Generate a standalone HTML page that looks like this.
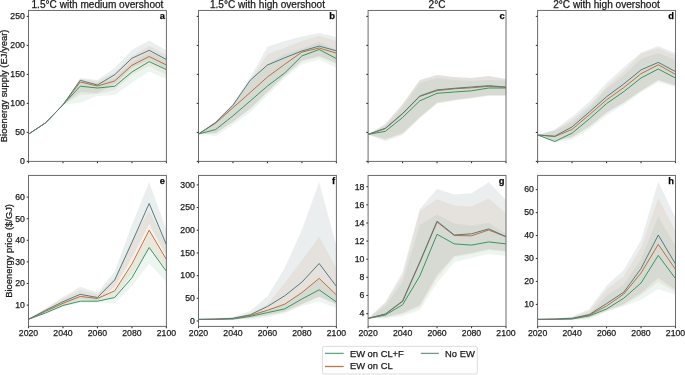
<!DOCTYPE html><html><head><meta charset="utf-8"><style>html,body{margin:0;padding:0;background:#fff;}svg{display:block;will-change:transform}text{font-family:"Liberation Sans",sans-serif;stroke:#1a1a1a;stroke-width:0.25px}</style></head><body>
<svg width="685" height="375" viewBox="0 0 685 375">
<rect width="685" height="375" fill="#fff"/>
<clipPath id="cpa"><rect x="28.5" y="10.45" width="137.9" height="150.95"/></clipPath>
<g clip-path="url(#cpa)">
<polygon points="28.5,134.2 45.74,122.7 62.98,104.8 80.21,82 97.45,83 114.69,78 131.93,62 149.16,52 166.4,60 166.4,79.3 149.16,71.4 131.93,82.7 114.69,95 97.45,96 80.21,102.7 62.98,104.8 45.74,122.7 28.5,134.2" fill="#4c9c74" fill-opacity="0.1"/>
<polygon points="28.5,134.2 45.74,122.7 62.98,104.8 80.21,79 97.45,81 114.69,73 131.93,56 149.16,46 166.4,55 166.4,75 149.16,66 131.93,75 114.69,90 97.45,94 80.21,95 62.98,104.8 45.74,122.7 28.5,134.2" fill="#c8783c" fill-opacity="0.1"/>
<polygon points="28.5,134.2 45.74,122.7 62.98,104.8 80.21,78 97.45,80 114.69,68 131.93,50 149.16,40.5 166.4,50.5 166.4,69 149.16,60 131.93,68 114.69,84 97.45,93 80.21,92 62.98,104.8 45.74,122.7 28.5,134.2" fill="#6f8a8e" fill-opacity="0.15"/>
<polyline points="28.5,134.2 45.74,122.7 62.98,104.8 80.21,86.2 97.45,88 114.69,86.3 131.93,72 149.16,61.6 166.4,69.6" fill="none" stroke="#34985f" stroke-width="1.0" stroke-linejoin="miter"/>
<polyline points="28.5,134.2 45.74,122.7 62.98,104.8 80.21,82 97.45,86 114.69,81 131.93,65.3 149.16,56.5 166.4,65" fill="none" stroke="#bc703c" stroke-width="1.0" stroke-linejoin="miter"/>
<polyline points="28.5,134.2 45.74,122.7 62.98,104.8 80.21,80.3 97.45,85 114.69,74.7 131.93,58.3 149.16,50.3 166.4,59.5" fill="none" stroke="#557b7f" stroke-width="1.0" stroke-linejoin="miter"/>
</g>
<rect x="28.5" y="10.45" width="137.9" height="150.95" fill="none" stroke="#6c6c6c" stroke-width="1"/>
<line x1="28.5" y1="161.4" x2="28.5" y2="163.2" stroke="#3a3a3a" stroke-width="1.1"/>
<line x1="62.98" y1="161.4" x2="62.98" y2="163.2" stroke="#3a3a3a" stroke-width="1.1"/>
<line x1="97.45" y1="161.4" x2="97.45" y2="163.2" stroke="#3a3a3a" stroke-width="1.1"/>
<line x1="131.93" y1="161.4" x2="131.93" y2="163.2" stroke="#3a3a3a" stroke-width="1.1"/>
<line x1="166.4" y1="161.4" x2="166.4" y2="163.2" stroke="#3a3a3a" stroke-width="1.1"/>
<line x1="26.7" y1="161.4" x2="28.5" y2="161.4" stroke="#3a3a3a" stroke-width="1.1"/>
<text x="24.8" y="164.2" font-size="8.7" text-anchor="end" fill="#1a1a1a">0</text>
<line x1="26.7" y1="132.4" x2="28.5" y2="132.4" stroke="#3a3a3a" stroke-width="1.1"/>
<text x="24.8" y="135.2" font-size="8.7" text-anchor="end" fill="#1a1a1a">50</text>
<line x1="26.7" y1="103.4" x2="28.5" y2="103.4" stroke="#3a3a3a" stroke-width="1.1"/>
<text x="24.8" y="106.2" font-size="8.7" text-anchor="end" fill="#1a1a1a">100</text>
<line x1="26.7" y1="74.4" x2="28.5" y2="74.4" stroke="#3a3a3a" stroke-width="1.1"/>
<text x="24.8" y="77.2" font-size="8.7" text-anchor="end" fill="#1a1a1a">150</text>
<line x1="26.7" y1="45.4" x2="28.5" y2="45.4" stroke="#3a3a3a" stroke-width="1.1"/>
<text x="24.8" y="48.2" font-size="8.7" text-anchor="end" fill="#1a1a1a">200</text>
<line x1="26.7" y1="16.4" x2="28.5" y2="16.4" stroke="#3a3a3a" stroke-width="1.1"/>
<text x="24.8" y="19.2" font-size="8.7" text-anchor="end" fill="#1a1a1a">250</text>
<text x="165" y="18.65" font-size="9.4" font-weight="bold" text-anchor="end" fill="#000">a</text>
<text x="97.45" y="7.6" font-size="10.1" text-anchor="middle" fill="#1a1a1a">1.5°C with medium overshoot</text>
<clipPath id="cpb"><rect x="198.5" y="10.45" width="137.9" height="150.95"/></clipPath>
<g clip-path="url(#cpb)">
<polygon points="198.5,134 215.74,122 232.97,105 250.21,81 267.45,64.3 284.69,54 301.93,48.4 319.16,42 336.4,50 336.4,67.5 319.16,60 301.93,64.3 284.69,78.3 267.45,95.5 250.21,112.3 232.97,125 215.74,136 198.5,134" fill="#4c9c74" fill-opacity="0.1"/>
<polygon points="198.5,134 215.74,121.5 232.97,104 250.21,80.5 267.45,54.3 284.69,47.8 301.93,41 319.16,36 336.4,41 336.4,64 319.16,57 301.93,61.5 284.69,76 267.45,92.5 250.21,109 232.97,122 215.74,133.5 198.5,134" fill="#c8783c" fill-opacity="0.1"/>
<polygon points="198.5,134 215.74,121 232.97,103.5 250.21,77.7 267.45,46.8 284.69,41 301.93,36.5 319.16,33 336.4,37 336.4,63 319.16,56 301.93,60.6 284.69,75.5 267.45,91.8 250.21,108.6 232.97,121.7 215.74,133 198.5,134" fill="#6f8a8e" fill-opacity="0.15"/>
<polyline points="198.5,134 215.74,129.5 232.97,115.8 250.21,101 267.45,86 284.69,73 301.93,55.9 319.16,49.5 336.4,58.6" fill="none" stroke="#34985f" stroke-width="1.0" stroke-linejoin="miter"/>
<polyline points="198.5,134 215.74,123 232.97,107.7 250.21,92.5 267.45,77 284.69,64.3 301.93,52.1 319.16,48 336.4,53.2" fill="none" stroke="#bc703c" stroke-width="1.0" stroke-linejoin="miter"/>
<polyline points="198.5,134 215.74,122.5 232.97,105.2 250.21,80.2 267.45,65 284.69,57.8 301.93,51 319.16,46.1 336.4,50.8" fill="none" stroke="#557b7f" stroke-width="1.0" stroke-linejoin="miter"/>
</g>
<rect x="198.5" y="10.45" width="137.9" height="150.95" fill="none" stroke="#6c6c6c" stroke-width="1"/>
<line x1="198.5" y1="161.4" x2="198.5" y2="163.2" stroke="#3a3a3a" stroke-width="1.1"/>
<line x1="232.97" y1="161.4" x2="232.97" y2="163.2" stroke="#3a3a3a" stroke-width="1.1"/>
<line x1="267.45" y1="161.4" x2="267.45" y2="163.2" stroke="#3a3a3a" stroke-width="1.1"/>
<line x1="301.93" y1="161.4" x2="301.93" y2="163.2" stroke="#3a3a3a" stroke-width="1.1"/>
<line x1="336.4" y1="161.4" x2="336.4" y2="163.2" stroke="#3a3a3a" stroke-width="1.1"/>
<line x1="196.7" y1="161.4" x2="198.5" y2="161.4" stroke="#3a3a3a" stroke-width="1.1"/>
<line x1="196.7" y1="132.4" x2="198.5" y2="132.4" stroke="#3a3a3a" stroke-width="1.1"/>
<line x1="196.7" y1="103.4" x2="198.5" y2="103.4" stroke="#3a3a3a" stroke-width="1.1"/>
<line x1="196.7" y1="74.4" x2="198.5" y2="74.4" stroke="#3a3a3a" stroke-width="1.1"/>
<line x1="196.7" y1="45.4" x2="198.5" y2="45.4" stroke="#3a3a3a" stroke-width="1.1"/>
<line x1="196.7" y1="16.4" x2="198.5" y2="16.4" stroke="#3a3a3a" stroke-width="1.1"/>
<text x="335" y="18.65" font-size="9.4" font-weight="bold" text-anchor="end" fill="#000">b</text>
<text x="267.45" y="7.6" font-size="10.1" text-anchor="middle" fill="#1a1a1a">1.5°C with high overshoot</text>
<clipPath id="cpc"><rect x="368.1" y="10.45" width="137.9" height="150.95"/></clipPath>
<g clip-path="url(#cpc)">
<polygon points="368.1,134.4 385.34,126 402.58,107 419.81,83 437.05,78 454.29,80 471.53,81 488.76,80 506,80.5 506,96 488.76,96 471.53,98.5 454.29,100.8 437.05,103.7 419.81,118.4 402.58,135 385.34,141.6 368.1,134.4" fill="#4c9c74" fill-opacity="0.1"/>
<polygon points="368.1,134.4 385.34,124 402.58,104 419.81,80 437.05,75 454.29,77 471.53,78.1 488.76,76.1 506,78.9 506,95.5 488.76,95.5 471.53,98 454.29,100.3 437.05,103 419.81,117.5 402.58,134 385.34,140 368.1,134.4" fill="#c8783c" fill-opacity="0.1"/>
<polygon points="368.1,134.4 385.34,124 402.58,104 419.81,80 437.05,75 454.29,77 471.53,78.1 488.76,76.1 506,78.9 506,95 488.76,95 471.53,97.5 454.29,99.8 437.05,102.5 419.81,117 402.58,133 385.34,139 368.1,134.4" fill="#6f8a8e" fill-opacity="0.15"/>
<polyline points="368.1,134.4 385.34,131.3 402.58,117.5 419.81,100.8 437.05,93.3 454.29,92 471.53,90.8 488.76,88 506,88" fill="none" stroke="#34985f" stroke-width="1.0" stroke-linejoin="miter"/>
<polyline points="368.1,134.4 385.34,128.5 402.58,113.8 419.81,96.4 437.05,90.6 454.29,88.8 471.53,87.8 488.76,86.3 506,87.4" fill="none" stroke="#bc703c" stroke-width="1.0" stroke-linejoin="miter"/>
<polyline points="368.1,134.4 385.34,128.3 402.58,113.5 419.81,96 437.05,89.9 454.29,88.3 471.53,87 488.76,85.7 506,87" fill="none" stroke="#557b7f" stroke-width="1.0" stroke-linejoin="miter"/>
</g>
<rect x="368.1" y="10.45" width="137.9" height="150.95" fill="none" stroke="#6c6c6c" stroke-width="1"/>
<line x1="368.1" y1="161.4" x2="368.1" y2="163.2" stroke="#3a3a3a" stroke-width="1.1"/>
<line x1="402.58" y1="161.4" x2="402.58" y2="163.2" stroke="#3a3a3a" stroke-width="1.1"/>
<line x1="437.05" y1="161.4" x2="437.05" y2="163.2" stroke="#3a3a3a" stroke-width="1.1"/>
<line x1="471.53" y1="161.4" x2="471.53" y2="163.2" stroke="#3a3a3a" stroke-width="1.1"/>
<line x1="506" y1="161.4" x2="506" y2="163.2" stroke="#3a3a3a" stroke-width="1.1"/>
<line x1="366.3" y1="161.4" x2="368.1" y2="161.4" stroke="#3a3a3a" stroke-width="1.1"/>
<line x1="366.3" y1="132.4" x2="368.1" y2="132.4" stroke="#3a3a3a" stroke-width="1.1"/>
<line x1="366.3" y1="103.4" x2="368.1" y2="103.4" stroke="#3a3a3a" stroke-width="1.1"/>
<line x1="366.3" y1="74.4" x2="368.1" y2="74.4" stroke="#3a3a3a" stroke-width="1.1"/>
<line x1="366.3" y1="45.4" x2="368.1" y2="45.4" stroke="#3a3a3a" stroke-width="1.1"/>
<line x1="366.3" y1="16.4" x2="368.1" y2="16.4" stroke="#3a3a3a" stroke-width="1.1"/>
<text x="504.6" y="18.65" font-size="9.4" font-weight="bold" text-anchor="end" fill="#000">c</text>
<text x="437.05" y="7.6" font-size="10.1" text-anchor="middle" fill="#1a1a1a">2°C</text>
<clipPath id="cpd"><rect x="537.6" y="10.45" width="137.9" height="150.95"/></clipPath>
<g clip-path="url(#cpd)">
<polygon points="537.6,135 554.84,131 572.08,122.3 589.31,108 606.55,88.7 623.79,75.6 641.03,58.8 658.26,53 675.5,59.9 675.5,87.2 658.26,82.3 641.03,92.3 623.79,105 606.55,115.5 589.31,129.5 572.08,139.5 554.84,142.7 537.6,135" fill="#4c9c74" fill-opacity="0.1"/>
<polygon points="537.6,135 554.84,130 572.08,119.5 589.31,105.5 606.55,86.8 623.79,71 641.03,53.5 658.26,48.1 675.5,55.6 675.5,85.7 658.26,80.3 641.03,91 623.79,102.7 606.55,113 589.31,127 572.08,137.2 554.84,141.5 537.6,135" fill="#c8783c" fill-opacity="0.1"/>
<polygon points="537.6,135 554.84,129.5 572.08,116.7 589.31,101.7 606.55,83.1 623.79,67.3 641.03,52.4 658.26,46 675.5,53 675.5,85.5 658.26,80.1 641.03,90.8 623.79,102.5 606.55,112.5 589.31,126.5 572.08,137 554.84,141 537.6,135" fill="#6f8a8e" fill-opacity="0.15"/>
<polyline points="537.6,135 554.84,141.5 572.08,133.1 589.31,118.9 606.55,103.6 623.79,91.6 641.03,78 658.26,69 675.5,78" fill="none" stroke="#34985f" stroke-width="1.0" stroke-linejoin="miter"/>
<polyline points="537.6,135 554.84,136.5 572.08,129.4 589.31,114.8 606.55,99.9 623.79,87.6 641.03,73.7 658.26,64.8 675.5,74.4" fill="none" stroke="#bc703c" stroke-width="1.0" stroke-linejoin="miter"/>
<polyline points="537.6,135 554.84,136.2 572.08,126.9 589.31,112 606.55,96.7 623.79,84 641.03,69.9 658.26,62.4 675.5,71.6" fill="none" stroke="#557b7f" stroke-width="1.0" stroke-linejoin="miter"/>
</g>
<rect x="537.6" y="10.45" width="137.9" height="150.95" fill="none" stroke="#6c6c6c" stroke-width="1"/>
<line x1="537.6" y1="161.4" x2="537.6" y2="163.2" stroke="#3a3a3a" stroke-width="1.1"/>
<line x1="572.08" y1="161.4" x2="572.08" y2="163.2" stroke="#3a3a3a" stroke-width="1.1"/>
<line x1="606.55" y1="161.4" x2="606.55" y2="163.2" stroke="#3a3a3a" stroke-width="1.1"/>
<line x1="641.03" y1="161.4" x2="641.03" y2="163.2" stroke="#3a3a3a" stroke-width="1.1"/>
<line x1="675.5" y1="161.4" x2="675.5" y2="163.2" stroke="#3a3a3a" stroke-width="1.1"/>
<line x1="535.8" y1="161.4" x2="537.6" y2="161.4" stroke="#3a3a3a" stroke-width="1.1"/>
<line x1="535.8" y1="132.4" x2="537.6" y2="132.4" stroke="#3a3a3a" stroke-width="1.1"/>
<line x1="535.8" y1="103.4" x2="537.6" y2="103.4" stroke="#3a3a3a" stroke-width="1.1"/>
<line x1="535.8" y1="74.4" x2="537.6" y2="74.4" stroke="#3a3a3a" stroke-width="1.1"/>
<line x1="535.8" y1="45.4" x2="537.6" y2="45.4" stroke="#3a3a3a" stroke-width="1.1"/>
<line x1="535.8" y1="16.4" x2="537.6" y2="16.4" stroke="#3a3a3a" stroke-width="1.1"/>
<text x="674.1" y="18.65" font-size="9.4" font-weight="bold" text-anchor="end" fill="#000">d</text>
<text x="606.55" y="7.6" font-size="10.1" text-anchor="middle" fill="#1a1a1a">2°C with high overshoot</text>
<clipPath id="cpe"><rect x="28.5" y="175.45" width="137.9" height="150.95"/></clipPath>
<g clip-path="url(#cpe)">
<polygon points="28.5,319.3 45.74,310.5 62.98,301.5 80.21,296 97.45,298 114.69,291 131.93,266 149.16,232 166.4,260 166.4,282 149.16,263.5 131.93,286.3 114.69,303 97.45,302.8 80.21,302.8 62.98,307.1 45.74,314 28.5,319.3" fill="#4c9c74" fill-opacity="0.1"/>
<polygon points="28.5,319.3 45.74,309 62.98,298.5 80.21,290 97.45,294 114.69,278 131.93,240 149.16,211 166.4,244 166.4,268 149.16,249 131.93,274 114.69,297 97.45,301.5 80.21,300.5 62.98,306 45.74,312.8 28.5,319.3" fill="#c8783c" fill-opacity="0.1"/>
<polygon points="28.5,319.3 45.74,308 62.98,296.9 80.21,286.8 97.45,292.4 114.69,271.4 131.93,224.8 149.16,182.2 166.4,230 166.4,256 149.16,224 131.93,258 114.69,287 97.45,300.5 80.21,299 62.98,305 45.74,312 28.5,319.3" fill="#6f8a8e" fill-opacity="0.15"/>
<polyline points="28.5,319.3 45.74,312.9 62.98,305.5 80.21,301.2 97.45,301.2 114.69,297.5 131.93,277.8 149.16,247.5 166.4,271.3" fill="none" stroke="#34985f" stroke-width="1.0" stroke-linejoin="miter"/>
<polyline points="28.5,319.3 45.74,311.3 62.98,303.3 80.21,296.4 97.45,298.5 114.69,290.8 131.93,264 149.16,230.2 166.4,259.5" fill="none" stroke="#bc703c" stroke-width="1.0" stroke-linejoin="miter"/>
<polyline points="28.5,319.3 45.74,310.2 62.98,301.7 80.21,294.3 97.45,297.5 114.69,280 131.93,242.4 149.16,203.5 166.4,244.7" fill="none" stroke="#557b7f" stroke-width="1.0" stroke-linejoin="miter"/>
</g>
<rect x="28.5" y="175.45" width="137.9" height="150.95" fill="none" stroke="#6c6c6c" stroke-width="1"/>
<line x1="28.5" y1="326.4" x2="28.5" y2="328.2" stroke="#3a3a3a" stroke-width="1.1"/>
<text x="28.5" y="336.4" font-size="8.7" text-anchor="middle" fill="#1a1a1a">2020</text>
<line x1="62.98" y1="326.4" x2="62.98" y2="328.2" stroke="#3a3a3a" stroke-width="1.1"/>
<text x="62.98" y="336.4" font-size="8.7" text-anchor="middle" fill="#1a1a1a">2040</text>
<line x1="97.45" y1="326.4" x2="97.45" y2="328.2" stroke="#3a3a3a" stroke-width="1.1"/>
<text x="97.45" y="336.4" font-size="8.7" text-anchor="middle" fill="#1a1a1a">2060</text>
<line x1="131.93" y1="326.4" x2="131.93" y2="328.2" stroke="#3a3a3a" stroke-width="1.1"/>
<text x="131.93" y="336.4" font-size="8.7" text-anchor="middle" fill="#1a1a1a">2080</text>
<line x1="166.4" y1="326.4" x2="166.4" y2="328.2" stroke="#3a3a3a" stroke-width="1.1"/>
<text x="166.4" y="336.4" font-size="8.7" text-anchor="middle" fill="#1a1a1a">2100</text>
<line x1="26.7" y1="305.1" x2="28.5" y2="305.1" stroke="#3a3a3a" stroke-width="1.1"/>
<text x="24.8" y="307.9" font-size="8.7" text-anchor="end" fill="#1a1a1a">10</text>
<line x1="26.7" y1="283.5" x2="28.5" y2="283.5" stroke="#3a3a3a" stroke-width="1.1"/>
<text x="24.8" y="286.3" font-size="8.7" text-anchor="end" fill="#1a1a1a">20</text>
<line x1="26.7" y1="261.9" x2="28.5" y2="261.9" stroke="#3a3a3a" stroke-width="1.1"/>
<text x="24.8" y="264.7" font-size="8.7" text-anchor="end" fill="#1a1a1a">30</text>
<line x1="26.7" y1="240.3" x2="28.5" y2="240.3" stroke="#3a3a3a" stroke-width="1.1"/>
<text x="24.8" y="243.1" font-size="8.7" text-anchor="end" fill="#1a1a1a">40</text>
<line x1="26.7" y1="218.7" x2="28.5" y2="218.7" stroke="#3a3a3a" stroke-width="1.1"/>
<text x="24.8" y="221.5" font-size="8.7" text-anchor="end" fill="#1a1a1a">50</text>
<line x1="26.7" y1="197.1" x2="28.5" y2="197.1" stroke="#3a3a3a" stroke-width="1.1"/>
<text x="24.8" y="199.9" font-size="8.7" text-anchor="end" fill="#1a1a1a">60</text>
<text x="165" y="183.65" font-size="9.4" font-weight="bold" text-anchor="end" fill="#000">e</text>
<clipPath id="cpf"><rect x="198.5" y="175.45" width="137.9" height="150.95"/></clipPath>
<g clip-path="url(#cpf)">
<polygon points="198.5,319.4 215.74,319 232.97,318.5 250.21,315 267.45,309.5 284.69,304 301.93,292.6 319.16,279 336.4,295 336.4,308 319.16,301.4 301.93,306 284.69,313.6 267.45,317 250.21,319.5 232.97,320 215.74,319.8 198.5,319.4" fill="#4c9c74" fill-opacity="0.1"/>
<polygon points="198.5,319.4 215.74,318.8 232.97,317.8 250.21,313.5 267.45,304.2 284.69,283 301.93,260.3 319.16,236.7 336.4,268.4 336.4,304.5 319.16,297 301.93,304.5 284.69,312 267.45,315.5 250.21,318.2 232.97,319.6 215.74,319.6 198.5,319.4" fill="#c8783c" fill-opacity="0.1"/>
<polygon points="198.5,319.4 215.74,318.5 232.97,317 250.21,311 267.45,296.6 284.69,268 301.93,229.8 319.16,182.3 336.4,246 336.4,304 319.16,296.5 301.93,304 284.69,311.5 267.45,315 250.21,318 232.97,319.5 215.74,319.5 198.5,319.4" fill="#6f8a8e" fill-opacity="0.15"/>
<polyline points="198.5,319.4 215.74,319.3 232.97,319 250.21,316.4 267.45,312.6 284.69,308.9 301.93,299 319.16,289.8 336.4,302" fill="none" stroke="#34985f" stroke-width="1.0" stroke-linejoin="miter"/>
<polyline points="198.5,319.4 215.74,319.2 232.97,318.6 250.21,315.5 267.45,310.3 284.69,304.2 301.93,292.6 319.16,278.4 336.4,294.9" fill="none" stroke="#bc703c" stroke-width="1.0" stroke-linejoin="miter"/>
<polyline points="198.5,319.4 215.74,319.1 232.97,318.3 250.21,314.8 267.45,306.5 284.69,295.8 301.93,282.1 319.16,263.5 336.4,286.4" fill="none" stroke="#557b7f" stroke-width="1.0" stroke-linejoin="miter"/>
</g>
<rect x="198.5" y="175.45" width="137.9" height="150.95" fill="none" stroke="#6c6c6c" stroke-width="1"/>
<line x1="198.5" y1="326.4" x2="198.5" y2="328.2" stroke="#3a3a3a" stroke-width="1.1"/>
<text x="198.5" y="336.4" font-size="8.7" text-anchor="middle" fill="#1a1a1a">2020</text>
<line x1="232.97" y1="326.4" x2="232.97" y2="328.2" stroke="#3a3a3a" stroke-width="1.1"/>
<text x="232.97" y="336.4" font-size="8.7" text-anchor="middle" fill="#1a1a1a">2040</text>
<line x1="267.45" y1="326.4" x2="267.45" y2="328.2" stroke="#3a3a3a" stroke-width="1.1"/>
<text x="267.45" y="336.4" font-size="8.7" text-anchor="middle" fill="#1a1a1a">2060</text>
<line x1="301.93" y1="326.4" x2="301.93" y2="328.2" stroke="#3a3a3a" stroke-width="1.1"/>
<text x="301.93" y="336.4" font-size="8.7" text-anchor="middle" fill="#1a1a1a">2080</text>
<line x1="336.4" y1="326.4" x2="336.4" y2="328.2" stroke="#3a3a3a" stroke-width="1.1"/>
<text x="336.4" y="336.4" font-size="8.7" text-anchor="middle" fill="#1a1a1a">2100</text>
<line x1="196.7" y1="321" x2="198.5" y2="321" stroke="#3a3a3a" stroke-width="1.1"/>
<text x="194.8" y="323.8" font-size="8.7" text-anchor="end" fill="#1a1a1a">0</text>
<line x1="196.7" y1="298.31" x2="198.5" y2="298.31" stroke="#3a3a3a" stroke-width="1.1"/>
<text x="194.8" y="301.12" font-size="8.7" text-anchor="end" fill="#1a1a1a">50</text>
<line x1="196.7" y1="275.63" x2="198.5" y2="275.63" stroke="#3a3a3a" stroke-width="1.1"/>
<text x="194.8" y="278.43" font-size="8.7" text-anchor="end" fill="#1a1a1a">100</text>
<line x1="196.7" y1="252.94" x2="198.5" y2="252.94" stroke="#3a3a3a" stroke-width="1.1"/>
<text x="194.8" y="255.75" font-size="8.7" text-anchor="end" fill="#1a1a1a">150</text>
<line x1="196.7" y1="230.26" x2="198.5" y2="230.26" stroke="#3a3a3a" stroke-width="1.1"/>
<text x="194.8" y="233.06" font-size="8.7" text-anchor="end" fill="#1a1a1a">200</text>
<line x1="196.7" y1="207.57" x2="198.5" y2="207.57" stroke="#3a3a3a" stroke-width="1.1"/>
<text x="194.8" y="210.38" font-size="8.7" text-anchor="end" fill="#1a1a1a">250</text>
<line x1="196.7" y1="184.89" x2="198.5" y2="184.89" stroke="#3a3a3a" stroke-width="1.1"/>
<text x="194.8" y="187.69" font-size="8.7" text-anchor="end" fill="#1a1a1a">300</text>
<text x="335" y="183.65" font-size="9.4" font-weight="bold" text-anchor="end" fill="#000">f</text>
<clipPath id="cpg"><rect x="368.1" y="175.45" width="137.9" height="150.95"/></clipPath>
<g clip-path="url(#cpg)">
<polygon points="368.1,318.4 385.34,306 402.58,282 419.81,225 437.05,214.5 454.29,223.6 471.53,225.7 488.76,222.8 506,233.8 506,256 488.76,254 471.53,258.1 454.29,262.2 437.05,283 419.81,310 402.58,316 385.34,318.5 368.1,318.4" fill="#4c9c74" fill-opacity="0.1"/>
<polygon points="368.1,318.4 385.34,303 402.58,276 419.81,211 437.05,199.3 454.29,205.4 471.53,206.6 488.76,198.5 506,213.5 506,252 488.76,250 471.53,254 454.29,257 437.05,278 419.81,307 402.58,314 385.34,317.5 368.1,318.4" fill="#c8783c" fill-opacity="0.1"/>
<polygon points="368.1,318.4 385.34,302 402.58,272 419.81,209 437.05,189 454.29,194.5 471.53,193.2 488.76,182.3 506,200.1 506,251 488.76,249 471.53,253 454.29,256 437.05,275 419.81,305 402.58,313 385.34,317 368.1,318.4" fill="#6f8a8e" fill-opacity="0.15"/>
<polyline points="368.1,318.4 385.34,315 402.58,304.8 419.81,276 437.05,234.3 454.29,243.9 471.53,245.1 488.76,241.9 506,243.9" fill="none" stroke="#34985f" stroke-width="1.0" stroke-linejoin="miter"/>
<polyline points="368.1,318.4 385.34,314.2 402.58,301.5 419.81,262.5 437.05,222 454.29,235.5 471.53,235.8 488.76,230 506,236.8" fill="none" stroke="#bc703c" stroke-width="1.0" stroke-linejoin="miter"/>
<polyline points="368.1,318.4 385.34,314 402.58,301 419.81,262 437.05,221.2 454.29,235 471.53,233.8 488.76,228.9 506,236.6" fill="none" stroke="#557b7f" stroke-width="1.0" stroke-linejoin="miter"/>
</g>
<rect x="368.1" y="175.45" width="137.9" height="150.95" fill="none" stroke="#6c6c6c" stroke-width="1"/>
<line x1="368.1" y1="326.4" x2="368.1" y2="328.2" stroke="#3a3a3a" stroke-width="1.1"/>
<text x="368.1" y="336.4" font-size="8.7" text-anchor="middle" fill="#1a1a1a">2020</text>
<line x1="402.58" y1="326.4" x2="402.58" y2="328.2" stroke="#3a3a3a" stroke-width="1.1"/>
<text x="402.58" y="336.4" font-size="8.7" text-anchor="middle" fill="#1a1a1a">2040</text>
<line x1="437.05" y1="326.4" x2="437.05" y2="328.2" stroke="#3a3a3a" stroke-width="1.1"/>
<text x="437.05" y="336.4" font-size="8.7" text-anchor="middle" fill="#1a1a1a">2060</text>
<line x1="471.53" y1="326.4" x2="471.53" y2="328.2" stroke="#3a3a3a" stroke-width="1.1"/>
<text x="471.53" y="336.4" font-size="8.7" text-anchor="middle" fill="#1a1a1a">2080</text>
<line x1="506" y1="326.4" x2="506" y2="328.2" stroke="#3a3a3a" stroke-width="1.1"/>
<text x="506" y="336.4" font-size="8.7" text-anchor="middle" fill="#1a1a1a">2100</text>
<line x1="366.3" y1="313.6" x2="368.1" y2="313.6" stroke="#3a3a3a" stroke-width="1.1"/>
<text x="364.4" y="316.4" font-size="8.7" text-anchor="end" fill="#1a1a1a">4</text>
<line x1="366.3" y1="295.47" x2="368.1" y2="295.47" stroke="#3a3a3a" stroke-width="1.1"/>
<text x="364.4" y="298.27" font-size="8.7" text-anchor="end" fill="#1a1a1a">6</text>
<line x1="366.3" y1="277.34" x2="368.1" y2="277.34" stroke="#3a3a3a" stroke-width="1.1"/>
<text x="364.4" y="280.14" font-size="8.7" text-anchor="end" fill="#1a1a1a">8</text>
<line x1="366.3" y1="259.22" x2="368.1" y2="259.22" stroke="#3a3a3a" stroke-width="1.1"/>
<text x="364.4" y="262.02" font-size="8.7" text-anchor="end" fill="#1a1a1a">10</text>
<line x1="366.3" y1="241.09" x2="368.1" y2="241.09" stroke="#3a3a3a" stroke-width="1.1"/>
<text x="364.4" y="243.89" font-size="8.7" text-anchor="end" fill="#1a1a1a">12</text>
<line x1="366.3" y1="222.96" x2="368.1" y2="222.96" stroke="#3a3a3a" stroke-width="1.1"/>
<text x="364.4" y="225.76" font-size="8.7" text-anchor="end" fill="#1a1a1a">14</text>
<line x1="366.3" y1="204.83" x2="368.1" y2="204.83" stroke="#3a3a3a" stroke-width="1.1"/>
<text x="364.4" y="207.63" font-size="8.7" text-anchor="end" fill="#1a1a1a">16</text>
<line x1="366.3" y1="186.7" x2="368.1" y2="186.7" stroke="#3a3a3a" stroke-width="1.1"/>
<text x="364.4" y="189.5" font-size="8.7" text-anchor="end" fill="#1a1a1a">18</text>
<text x="504.6" y="183.65" font-size="9.4" font-weight="bold" text-anchor="end" fill="#000">g</text>
<clipPath id="cph"><rect x="537.6" y="175.45" width="137.9" height="150.95"/></clipPath>
<g clip-path="url(#cph)">
<polygon points="537.6,319.4 554.84,319 572.08,318 589.31,314 606.55,295.8 623.79,284.4 641.03,259 658.26,216.8 675.5,245.9 675.5,295 658.26,289 641.03,300 623.79,306 606.55,311.4 589.31,319.5 572.08,320 554.84,319.8 537.6,319.4" fill="#4c9c74" fill-opacity="0.1"/>
<polygon points="537.6,319.4 554.84,318.7 572.08,317 589.31,311 606.55,289.2 623.79,276 641.03,247.8 658.26,198.1 675.5,231 675.5,292 658.26,282 641.03,295 623.79,305 606.55,311 589.31,318 572.08,319.6 554.84,319.6 537.6,319.4" fill="#c8783c" fill-opacity="0.1"/>
<polygon points="537.6,319.4 554.84,318.5 572.08,316.5 589.31,309 606.55,285.6 623.79,270 641.03,240.3 658.26,181.7 675.5,217.9 675.5,290 658.26,278 641.03,293 623.79,304 606.55,310.5 589.31,317.5 572.08,319.5 554.84,319.5 537.6,319.4" fill="#6f8a8e" fill-opacity="0.15"/>
<polyline points="537.6,319.4 554.84,319.3 572.08,319 589.31,315.9 606.55,309 623.79,298.2 641.03,283 658.26,255.4 675.5,278.6" fill="none" stroke="#34985f" stroke-width="1.0" stroke-linejoin="miter"/>
<polyline points="537.6,319.4 554.84,319.2 572.08,318.6 589.31,315.1 606.55,306 623.79,294 641.03,273 658.26,244.4 675.5,269.4" fill="none" stroke="#bc703c" stroke-width="1.0" stroke-linejoin="miter"/>
<polyline points="537.6,319.4 554.84,319.1 572.08,318.3 589.31,314.5 606.55,303.6 623.79,292.2 641.03,268.6 658.26,235 675.5,264" fill="none" stroke="#557b7f" stroke-width="1.0" stroke-linejoin="miter"/>
</g>
<rect x="537.6" y="175.45" width="137.9" height="150.95" fill="none" stroke="#6c6c6c" stroke-width="1"/>
<line x1="537.6" y1="326.4" x2="537.6" y2="328.2" stroke="#3a3a3a" stroke-width="1.1"/>
<text x="537.6" y="336.4" font-size="8.7" text-anchor="middle" fill="#1a1a1a">2020</text>
<line x1="572.08" y1="326.4" x2="572.08" y2="328.2" stroke="#3a3a3a" stroke-width="1.1"/>
<text x="572.08" y="336.4" font-size="8.7" text-anchor="middle" fill="#1a1a1a">2040</text>
<line x1="606.55" y1="326.4" x2="606.55" y2="328.2" stroke="#3a3a3a" stroke-width="1.1"/>
<text x="606.55" y="336.4" font-size="8.7" text-anchor="middle" fill="#1a1a1a">2060</text>
<line x1="641.03" y1="326.4" x2="641.03" y2="328.2" stroke="#3a3a3a" stroke-width="1.1"/>
<text x="641.03" y="336.4" font-size="8.7" text-anchor="middle" fill="#1a1a1a">2080</text>
<line x1="675.5" y1="326.4" x2="675.5" y2="328.2" stroke="#3a3a3a" stroke-width="1.1"/>
<text x="675.5" y="336.4" font-size="8.7" text-anchor="middle" fill="#1a1a1a">2100</text>
<line x1="535.8" y1="304.4" x2="537.6" y2="304.4" stroke="#3a3a3a" stroke-width="1.1"/>
<text x="533.9" y="307.2" font-size="8.7" text-anchor="end" fill="#1a1a1a">10</text>
<line x1="535.8" y1="281.45" x2="537.6" y2="281.45" stroke="#3a3a3a" stroke-width="1.1"/>
<text x="533.9" y="284.25" font-size="8.7" text-anchor="end" fill="#1a1a1a">20</text>
<line x1="535.8" y1="258.5" x2="537.6" y2="258.5" stroke="#3a3a3a" stroke-width="1.1"/>
<text x="533.9" y="261.3" font-size="8.7" text-anchor="end" fill="#1a1a1a">30</text>
<line x1="535.8" y1="235.55" x2="537.6" y2="235.55" stroke="#3a3a3a" stroke-width="1.1"/>
<text x="533.9" y="238.35" font-size="8.7" text-anchor="end" fill="#1a1a1a">40</text>
<line x1="535.8" y1="212.6" x2="537.6" y2="212.6" stroke="#3a3a3a" stroke-width="1.1"/>
<text x="533.9" y="215.4" font-size="8.7" text-anchor="end" fill="#1a1a1a">50</text>
<line x1="535.8" y1="189.65" x2="537.6" y2="189.65" stroke="#3a3a3a" stroke-width="1.1"/>
<text x="533.9" y="192.45" font-size="8.7" text-anchor="end" fill="#1a1a1a">60</text>
<text x="674.1" y="183.65" font-size="9.4" font-weight="bold" text-anchor="end" fill="#000">h</text>
<text transform="translate(7.2,85.9) rotate(-90)" font-size="9.4" text-anchor="middle" fill="#1a1a1a">Bioenergy supply (EJ/year)</text>
<text transform="translate(12,250.9) rotate(-90)" font-size="9.4" text-anchor="middle" fill="#1a1a1a">Bioenergy price ($/GJ)</text>
<rect x="322.5" y="346.4" width="154.8" height="27.6" rx="1.5" fill="#fff" stroke="#d9d9d9" stroke-width="0.9"/>
<line x1="325" y1="353.4" x2="343.7" y2="353.4" stroke="#5fa87f" stroke-width="1.3"/>
<text x="349.9" y="356.9" font-size="9.4" fill="#1a1a1a">EW on CL+F</text>
<line x1="325" y1="366.5" x2="343.7" y2="366.5" stroke="#b47a4a" stroke-width="1.3"/>
<text x="349.9" y="369.3" font-size="9.4" fill="#1a1a1a">EW on CL</text>
<line x1="420.8" y1="353.4" x2="438.8" y2="353.4" stroke="#78968f" stroke-width="1.3"/>
<text x="445.1" y="356.9" font-size="9.4" fill="#1a1a1a">No EW</text>
</svg></body></html>
